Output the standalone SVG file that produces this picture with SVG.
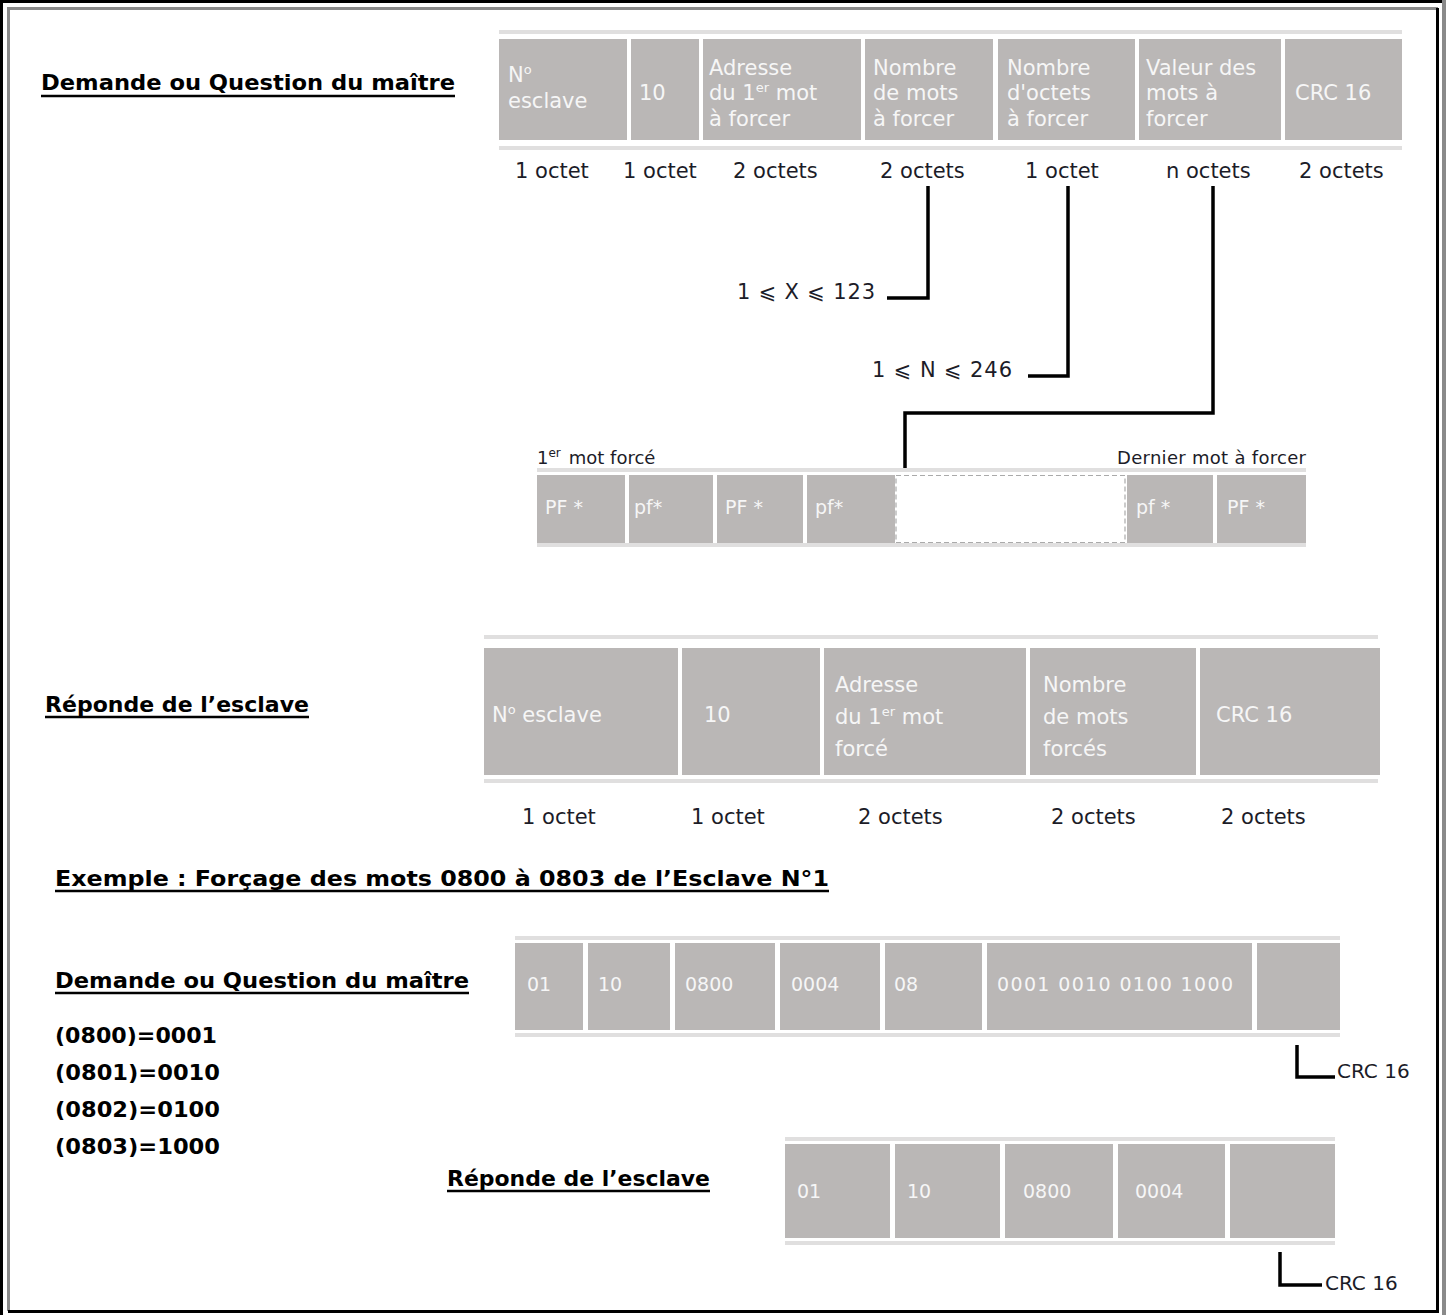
<svg xmlns="http://www.w3.org/2000/svg" width="1450" height="1315" viewBox="0 0 1450 1315">
<style>
.cell{fill:#bab7b6}
.rule{fill:#e0dfdf}
.ct{font-family:"DejaVu Sans",sans-serif;font-size:21px;fill:#f6f6f6}
.ctn{font-family:"DejaVu Sans",sans-serif;font-size:19px;fill:#f6f6f6}
.lb{font-family:"DejaVu Sans",sans-serif;font-size:21px;fill:#1c1c28}
.lbs{font-family:"DejaVu Sans",sans-serif;font-size:18px;fill:#1c1c28}
.crc{font-family:"DejaVu Sans",sans-serif;font-size:20px;fill:#1c1c28}
.sup{font-size:13px}
.hd{font-family:"DejaVu Sans",sans-serif;font-weight:bold;font-size:22px;fill:#000}
.ul{stroke:#000;stroke-width:2.5}
.con{fill:none;stroke:#000;stroke-width:3.5}
</style>
<rect width="1450" height="1315" fill="#fff"/>
<g id="frame" fill="none">
<path d="M1.5,1315 V1.5 H1446" stroke="#000" stroke-width="3"/>
<path d="M8.5,1311 V8.5 H1438" stroke="#8a8a8a" stroke-width="3"/>
<path d="M8,1311.5 H1437.5 V8" stroke="#000" stroke-width="3"/>
<path d="M1444,0 V1315" stroke="#8a8a8a" stroke-width="4"/>
</g>

<g id="title-master">
<text class="hd" x="41" y="90" textLength="414" lengthAdjust="spacingAndGlyphs">Demande ou Question du maître</text>
<line class="ul" x1="41" y1="96" x2="455" y2="96"/>
</g>

<g id="master-frame">
<rect class="rule" x="499" y="30" width="903" height="4"/>
<rect class="rule" x="499" y="146" width="903" height="4"/>
<rect class="cell" x="499" y="39" width="128" height="101"/>
<rect class="cell" x="631" y="39" width="68" height="101"/>
<rect class="cell" x="703" y="39" width="158" height="101"/>
<rect class="cell" x="865" y="39" width="128" height="101"/>
<rect class="cell" x="998" y="39" width="137" height="101"/>
<rect class="cell" x="1139" y="39" width="142" height="101"/>
<rect class="cell" x="1285" y="39" width="117" height="101"/>
<text class="ct" x="508" y="82">N<tspan class="sup" dy="-8">o</tspan></text>
<text class="ct" x="508" y="108">esclave</text>
<text class="ct" x="639" y="100">10</text>
<text class="ct" x="709" y="75">Adresse</text>
<text class="ct" x="709" y="100">du 1<tspan class="sup" dy="-8">er</tspan><tspan dy="8">  mot</tspan></text>
<text class="ct" x="709" y="126">à forcer</text>
<text class="ct" x="873" y="75">Nombre</text>
<text class="ct" x="873" y="100">de mots</text>
<text class="ct" x="873" y="126">à forcer</text>
<text class="ct" x="1007" y="75">Nombre</text>
<text class="ct" x="1007" y="100">d'octets</text>
<text class="ct" x="1007" y="126">à forcer</text>
<text class="ct" x="1146" y="75">Valeur des</text>
<text class="ct" x="1146" y="100">mots à</text>
<text class="ct" x="1146" y="126">forcer</text>
<text class="ct" x="1295" y="100">CRC 16</text>
<text class="lb" x="515" y="178">1 octet</text>
<text class="lb" x="623" y="178">1 octet</text>
<text class="lb" x="733" y="178">2 octets</text>
<text class="lb" x="880" y="178">2 octets</text>
<text class="lb" x="1025" y="178">1 octet</text>
<text class="lb" x="1166" y="178">n octets</text>
<text class="lb" x="1299" y="178">2 octets</text>
</g>

<g id="range-x">
<text class="lb" x="737" y="299" textLength="138" lengthAdjust="spacing">1 ⩽ X ⩽ 123</text>
</g>
<g id="range-n">
<text class="lb" x="872" y="377" textLength="140" lengthAdjust="spacing">1 ⩽ N ⩽ 246</text>
</g>

<g id="words-row">
<text class="lbs" x="537" y="464">1<tspan font-size="12" dy="-7">er</tspan><tspan dy="7" dx="8">mot forcé</tspan></text>
<text class="lbs" x="1306" y="464" text-anchor="end" textLength="189" lengthAdjust="spacing">Dernier mot à forcer</text>
<rect class="rule" x="537" y="468" width="769" height="4"/>
<rect class="rule" x="537" y="543" width="769" height="4"/>
<rect class="cell" x="537" y="475" width="88" height="68"/>
<rect class="cell" x="629" y="475" width="84" height="68"/>
<rect class="cell" x="717" y="475" width="86" height="68"/>
<rect class="cell" x="807" y="475" width="88" height="68"/>
<rect x="896" y="475.5" width="229" height="67" fill="#fff" stroke="#aaa" stroke-width="1.2" stroke-dasharray="5,3"/>
<rect class="cell" x="1127" y="475" width="86" height="68"/>
<rect class="cell" x="1217" y="475" width="89" height="68"/>
<text class="ctn" x="545" y="514">PF *</text>
<text class="ctn" x="634" y="514">pf*</text>
<text class="ctn" x="725" y="514">PF *</text>
<text class="ctn" x="815" y="514">pf*</text>
<text class="ctn" x="1136" y="514">pf *</text>
<text class="ctn" x="1227" y="514">PF *</text>
</g>

<g id="title-slave">
<text class="hd" x="45" y="712" textLength="264" lengthAdjust="spacingAndGlyphs">Réponde de l’esclave</text>
<line class="ul" x1="45" y1="717" x2="309" y2="717"/>
</g>

<g id="slave-frame">
<rect class="rule" x="484" y="635" width="894" height="4"/>
<rect class="rule" x="484" y="779" width="894" height="4"/>
<rect class="cell" x="484" y="648" width="194" height="127"/>
<rect class="cell" x="682" y="648" width="138" height="127"/>
<rect class="cell" x="824" y="648" width="202" height="127"/>
<rect class="cell" x="1030" y="648" width="166" height="127"/>
<rect class="cell" x="1200" y="648" width="180" height="127"/>
<text class="ct" x="492" y="722">N<tspan class="sup" dy="-8">o</tspan><tspan dy="8"> esclave</tspan></text>
<text class="ct" x="704" y="722">10</text>
<text class="ct" x="835" y="692">Adresse</text>
<text class="ct" x="835" y="724">du 1<tspan class="sup" dy="-8">er</tspan><tspan dy="8"> mot</tspan></text>
<text class="ct" x="835" y="756">forcé</text>
<text class="ct" x="1043" y="692">Nombre</text>
<text class="ct" x="1043" y="724">de mots</text>
<text class="ct" x="1043" y="756">forcés</text>
<text class="ct" x="1216" y="722">CRC 16</text>
<text class="lb" x="522" y="824">1 octet</text>
<text class="lb" x="691" y="824">1 octet</text>
<text class="lb" x="858" y="824">2 octets</text>
<text class="lb" x="1051" y="824">2 octets</text>
<text class="lb" x="1221" y="824">2 octets</text>
</g>

<g id="title-example">
<text class="hd" x="55" y="886" textLength="774" lengthAdjust="spacingAndGlyphs">Exemple : Forçage des mots 0800 à 0803 de l’Esclave N°1</text>
<line class="ul" x1="55" y1="891" x2="829" y2="891"/>
</g>

<g id="title-master-example">
<text class="hd" x="55" y="988" textLength="414" lengthAdjust="spacingAndGlyphs">Demande ou Question du maître</text>
<line class="ul" x1="55" y1="993" x2="469" y2="993"/>
</g>

<g id="values">
<text class="hd" x="55" y="1043" textLength="162" lengthAdjust="spacingAndGlyphs">(0800)=0001</text>
<text class="hd" x="55" y="1080" textLength="165" lengthAdjust="spacingAndGlyphs">(0801)=0010</text>
<text class="hd" x="55" y="1117" textLength="165" lengthAdjust="spacingAndGlyphs">(0802)=0100</text>
<text class="hd" x="55" y="1154" textLength="165" lengthAdjust="spacingAndGlyphs">(0803)=1000</text>
</g>

<g id="example-master-frame">
<rect class="rule" x="515" y="936" width="825" height="4"/>
<rect class="rule" x="515" y="1033" width="825" height="4"/>
<rect class="cell" x="515" y="943" width="68" height="87"/>
<rect class="cell" x="588" y="943" width="82" height="87"/>
<rect class="cell" x="675" y="943" width="100" height="87"/>
<rect class="cell" x="780" y="943" width="100" height="87"/>
<rect class="cell" x="885" y="943" width="97" height="87"/>
<rect class="cell" x="987" y="943" width="265" height="87"/>
<rect class="cell" x="1257" y="943" width="83" height="87"/>
<text class="ctn" x="527" y="991">01</text>
<text class="ctn" x="598" y="991">10</text>
<text class="ctn" x="685" y="991">0800</text>
<text class="ctn" x="791" y="991">0004</text>
<text class="ctn" x="894" y="991">08</text>
<text class="ctn" x="997" y="991" textLength="236" lengthAdjust="spacing">0001 0010 0100 1000</text>
<text class="crc" x="1337" y="1078">CRC 16</text>
</g>

<g id="title-slave-example">
<text class="hd" x="447" y="1186" textLength="263" lengthAdjust="spacingAndGlyphs">Réponde de l’esclave</text>
<line class="ul" x1="447" y1="1191" x2="710" y2="1191"/>
</g>

<g id="example-slave-frame">
<rect class="rule" x="785" y="1137" width="550" height="4"/>
<rect class="rule" x="785" y="1241" width="550" height="4"/>
<rect class="cell" x="785" y="1144" width="105" height="94"/>
<rect class="cell" x="895" y="1144" width="105" height="94"/>
<rect class="cell" x="1005" y="1144" width="108" height="94"/>
<rect class="cell" x="1118" y="1144" width="107" height="94"/>
<rect class="cell" x="1230" y="1144" width="105" height="94"/>
<text class="ctn" x="797" y="1198">01</text>
<text class="ctn" x="907" y="1198">10</text>
<text class="ctn" x="1023" y="1198">0800</text>
<text class="ctn" x="1135" y="1198">0004</text>
<text class="crc" x="1325" y="1290">CRC 16</text>
</g>

<g id="connectors">
<path class="con" d="M928,186 V298 H887"/>
<path class="con" d="M1068,186 V376 H1028"/>
<path class="con" d="M1213,186 V413 H905 V468"/>
<path class="con" d="M1297,1045 V1077 H1335"/>
<path class="con" d="M1280,1252 V1285 H1322"/>
</g>
</svg>
